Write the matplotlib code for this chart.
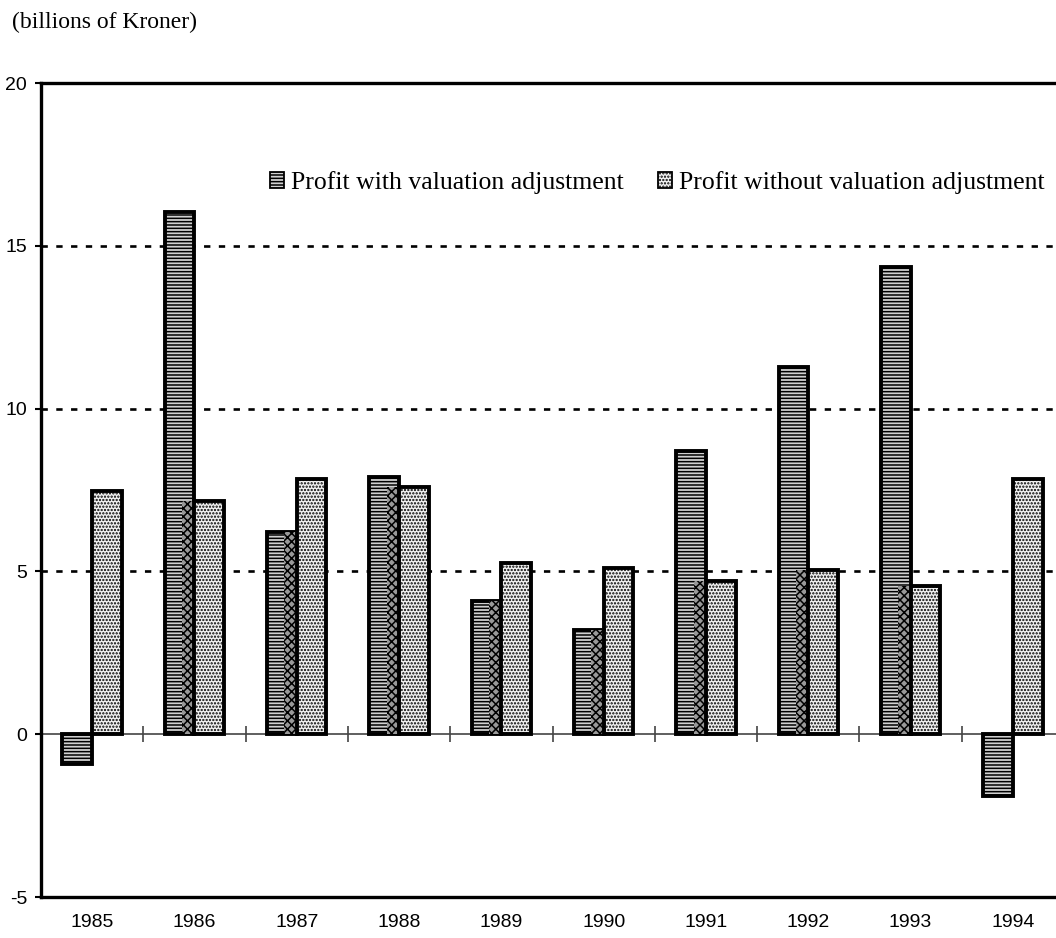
import numpy as np
import matplotlib.pyplot as plt

years = ['1985', '1986', '1987', '1988', '1989', '1990', '1991', '1992', '1993', '1994']
with_adj = [-0.91, 16.04, 6.2, 7.91, 4.08, 3.2, 8.7, 11.29, 14.35, -1.91]
without_adj = [7.47, 7.16, 7.84, 7.6, 5.25, 5.1, 4.71, 5.05, 4.56, 7.85]
yticks = [-5, 0, 5, 10, 15, 20]
gridlines = [5, 10, 15]

plt.rcParams['hatch.linewidth'] = 1.1
serif = 'Liberation Serif'
sans = 'Liberation Sans'

fig = plt.figure(figsize=(10.56, 9.38), dpi=100)
# right edge of the box falls just outside the picture, as in the scan
ax = fig.add_axes([41/1056, 41/938, 1023/1056, 814/938])

x = np.arange(len(years))
w = 0.29
wa = np.array(with_adj)
wo = np.array(without_adj)

for y in gridlines:
    ax.axhline(y, color='black', lw=1.9, dashes=(2.4, 3.2), zorder=1)
ax.axhline(0, color='#444444', lw=1.2, zorder=1)
ax.plot(x[:-1] + 0.5, np.zeros(len(x) - 1), ls='none', marker='|',
        ms=11, mew=1.2, color='#444444', zorder=1)

ax.bar(x - w, wa, w, align='edge', facecolor='#d0d0d0', edgecolor='black',
       hatch='-----', lw=2.8, zorder=3, label='Profit with valuation adjustment')
# overlap strip where the two bars meet (checker look of the scan)
ov = 0.12
ax.bar(x - ov, np.where(wa > 0, np.minimum(wa, wo), 0), ov, align='edge',
       facecolor='#999999', edgecolor='black', hatch='xxxx', lw=0, zorder=3.5)
ax.bar(x, wo, w, align='edge', facecolor='#f2f2f2', edgecolor='black',
       hatch='.....', lw=2.8, zorder=4, label='Profit without valuation adjustment')

ax.set_xlim(-0.5, 9.5)
ax.set_ylim(-5, 20)
ax.set_yticks(yticks)
ax.set_yticklabels([str(v) for v in yticks], fontsize=14, family=sans)
ax.set_xticks(x)
ax.set_xticklabels(years, fontsize=14, family=sans)
ax.tick_params(axis='x', length=0, pad=12)
ax.tick_params(axis='y', direction='out', length=4, width=1.5, pad=6)

for s in ['left', 'bottom', 'top']:
    ax.spines[s].set_linewidth(2.4)
ax.spines['right'].set_visible(False)

leg = ax.legend(loc='upper right', bbox_to_anchor=(1045/1056, 1 - 171/938),
                bbox_transform=fig.transFigure, ncol=2, frameon=False,
                prop={'family': serif, 'size': 18.5}, handlelength=0.55,
                handleheight=0.55, handletextpad=0.3, columnspacing=1.3,
                borderpad=0, borderaxespad=0)
for h in leg.legend_handles:
    h.set_linewidth(1.3)

fig.text(12/1056, 1 - 22/938, '(billions of Kroner)', family=serif,
         fontsize=17, va='center', ha='left')

fig.savefig('out.png', dpi=100)
